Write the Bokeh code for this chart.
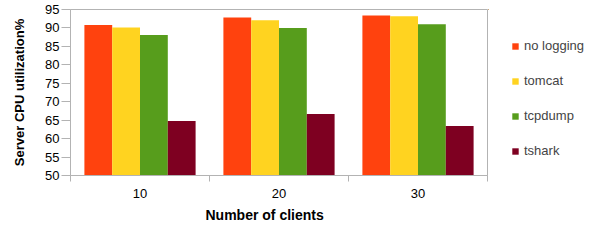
from bokeh.plotting import figure
from bokeh.layouts import row
from bokeh.models import ColumnDataSource, FixedTicker, Legend, LegendItem, Range1d, Title
from bokeh.transform import dodge
from bokeh.embed import file_html
from bokeh.resources import INLINE

clients = ["10", "20", "30"]
series = ["no logging", "tomcat", "tcpdump", "tshark"]
no_logging = [90.8, 92.8, 93.4]
tomcat = [90.1, 92.1, 93.2]
tcpdump = [88.1, 90.0, 91.0]
tshark = [64.8, 66.7, 63.4]
colors = ["#ff420e", "#ffd320", "#579d1c", "#7e0021"]
y_ticks = [50, 55, 60, 65, 70, 75, 80, 85, 90, 95]

x_pos = [i + 0.5 for i in range(len(clients))]
bounds = list(range(len(clients) + 1))

src = ColumnDataSource(dict(x=x_pos, no_logging=no_logging, tomcat=tomcat,
                            tcpdump=tcpdump, tshark=tshark))

FONT = "Liberation Sans"
GRAY = "#b3b3b3"

p = figure(width=488, height=246, x_range=Range1d(0, len(clients)),
           y_range=Range1d(y_ticks[0], y_ticks[-1]),
           output_backend="svg", toolbar_location=None,
           min_border_left=70, min_border_top=9, min_border_bottom=71,
           min_border_right=1)
p.background_fill_color = "white"
p.border_fill_color = "white"
p.outline_line_color = GRAY
p.xgrid.visible = False
p.ygrid.visible = False

# separate panel holding only the legend
lg = figure(width=127, height=246, x_range=Range1d(10, 11), y_range=Range1d(0, 1),
            output_backend="svg", toolbar_location=None,
            min_border=0, x_axis_type=None, y_axis_type=None)
lg.outline_line_color = None
lg.xgrid.visible = False
lg.ygrid.visible = False
lg.background_fill_color = "white"
lg.border_fill_color = "white"

cols = ["no_logging", "tomcat", "tcpdump", "tshark"]
offsets = [-0.3, -0.1, 0.1, 0.3]
items = []
for col, name, c, off in zip(cols, series, colors, offsets):
    p.vbar(x=dodge("x", off), top=col, bottom=y_ticks[0], width=0.2,
           source=src, fill_color=c, line_color=None)
    r2 = lg.vbar(x=dodge("x", off), top=col, bottom=y_ticks[0], width=0.2,
                 source=src, fill_color=c, line_color=None)
    items.append(LegendItem(label=name, renderers=[r2]))

legend = Legend(items=items, location=(23, 17), orientation="vertical",
                glyph_width=8, glyph_height=8, label_text_font=FONT,
                label_text_font_size="13px", label_height=15, spacing=20,
                padding=0, margin=0, border_line_alpha=0,
                background_fill_alpha=0, label_standoff=5)
lg.add_layout(legend)

# axes
xa = p.xaxis[0]
xa.ticker = FixedTicker(ticks=x_pos, minor_ticks=bounds)
xa.major_label_overrides = {x: c for x, c in zip(x_pos, clients)}
xa.major_tick_out = 0
xa.major_tick_in = 0
xa.minor_tick_out = 6
xa.minor_tick_in = 0
xa.minor_tick_line_color = GRAY
xa.axis_line_color = GRAY
xa.major_label_standoff = 7
xa.major_label_text_font = FONT
xa.major_label_text_font_size = "13px"
xa.major_label_text_color = "black"

p.add_layout(Title(text="Number of clients", align="left", offset=135,
                   standoff=9, text_font=FONT, text_font_size="14px",
                   text_font_style="bold", text_color="black"), "below")

ya = p.yaxis[0]
ya.ticker = FixedTicker(ticks=y_ticks, minor_ticks=[])
ya.major_tick_out = 9
ya.major_tick_in = 0
ya.major_tick_line_color = GRAY
ya.axis_line_color = GRAY
ya.major_label_standoff = 2
ya.major_label_text_font = FONT
ya.major_label_text_font_size = "13px"
ya.major_label_text_color = "black"
ya.axis_label = "Server CPU utilization%"
ya.axis_label_text_font = FONT
ya.axis_label_text_font_size = "13px"
ya.axis_label_text_font_style = "bold"
ya.axis_label_text_color = "black"
ya.axis_label_standoff = 15

layout = row(p, lg, spacing=0)
open("out.html", "w").write(file_html(layout, INLINE))
